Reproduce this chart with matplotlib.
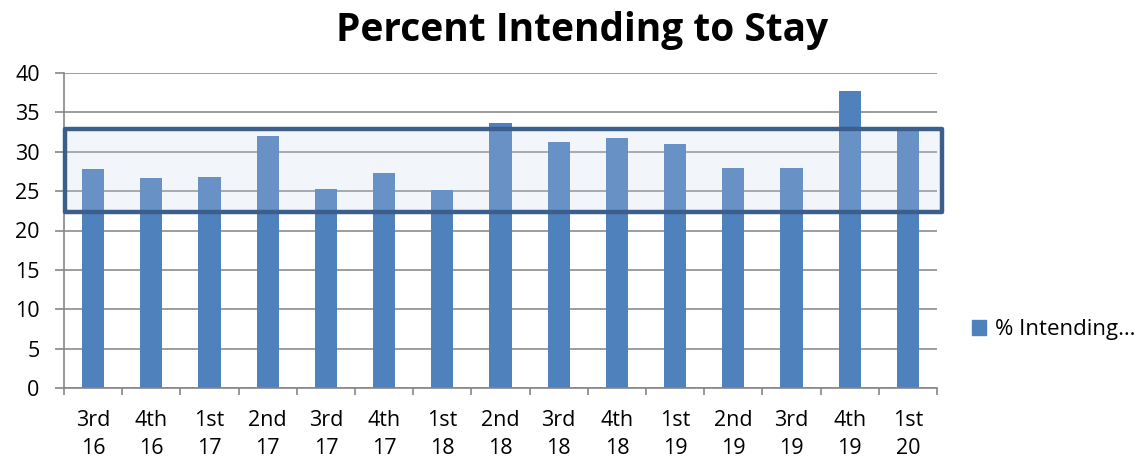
import matplotlib
matplotlib.use("Agg")
import matplotlib.pyplot as plt
from matplotlib.patches import Rectangle, Patch

quarters = ["3rd\n16", "4th\n16", "1st\n17", "2nd\n17", "3rd\n17", "4th\n17", "1st\n18",
            "2nd\n18", "3rd\n18", "4th\n18", "1st\n19", "2nd\n19", "3rd\n19", "4th\n19", "1st\n20"]
values = [27.8, 26.7, 26.8, 32.0, 25.3, 27.3, 25.2, 33.7, 31.3, 31.7, 31.0, 28.0, 28.0, 37.7, 33.0]
series_name = "% Intending\u2026"
band_low, band_high = 22.3, 32.9

plt.rcParams['font.family'] = ['Open Sans', 'DejaVu Sans']

fig = plt.figure(figsize=(11.47, 4.58), dpi=100)
ax = fig.add_axes([64/1147, (458-388)/458, (937-64)/1147, (388-73)/458])

x = list(range(len(values)))
bar_color = "#4F81BD"
ax.bar(x, values, width=0.38, color=bar_color, zorder=2, label=series_name)

ax.set_xlim(-0.5, len(values) - 0.5)
ax.set_ylim(0, 40)
ax.set_yticks(range(0, 41, 5))
ax.set_xticks(x)
ax.set_xticklabels(quarters, linespacing=1.45)
ax.set_xticks([i - 0.5 for i in range(len(values) + 1)], minor=True)
ax.tick_params(axis='x', which='major', length=0, pad=15.5, labelsize=15.5)
ax.tick_params(axis='x', which='minor', length=5, color="#868686", width=1.2)
ax.tick_params(axis='y', length=6.5, color="#868686", width=1.2, labelsize=15.5, pad=11)

ax.yaxis.grid(True, color="#8c8c8c", linewidth=1.2, zorder=0)
ax.set_axisbelow(True)
for s in ["top", "right"]:
    ax.spines[s].set_visible(False)
for s in ["left", "bottom"]:
    ax.spines[s].set_color("#868686")
    ax.spines[s].set_linewidth(1.2)

# highlight band
rect = Rectangle((-0.5 + 1/58.2, band_low), len(values) + 4/58.2, band_high - band_low,
                 facecolor=(198/255, 211/255, 236/255, 0.21), edgecolor="#3B5E8C",
                 linewidth=3.2, zorder=3, clip_on=False, joinstyle='round')
ax.add_patch(rect)

fig.text(582/1147, 1 - 31/458, "Percent Intending to Stay", ha="center", va="center",
         fontsize=28, fontweight="bold")

fig.legend(handles=[Patch(color=bar_color, label=series_name)], loc="center left",
           bbox_to_anchor=(972/1147, 1 - 330/458), frameon=False, fontsize=16,
           handlelength=0.63, handleheight=0.63, handletextpad=0.4,
           borderpad=0, borderaxespad=0)

fig.savefig("out.png", dpi=100)
